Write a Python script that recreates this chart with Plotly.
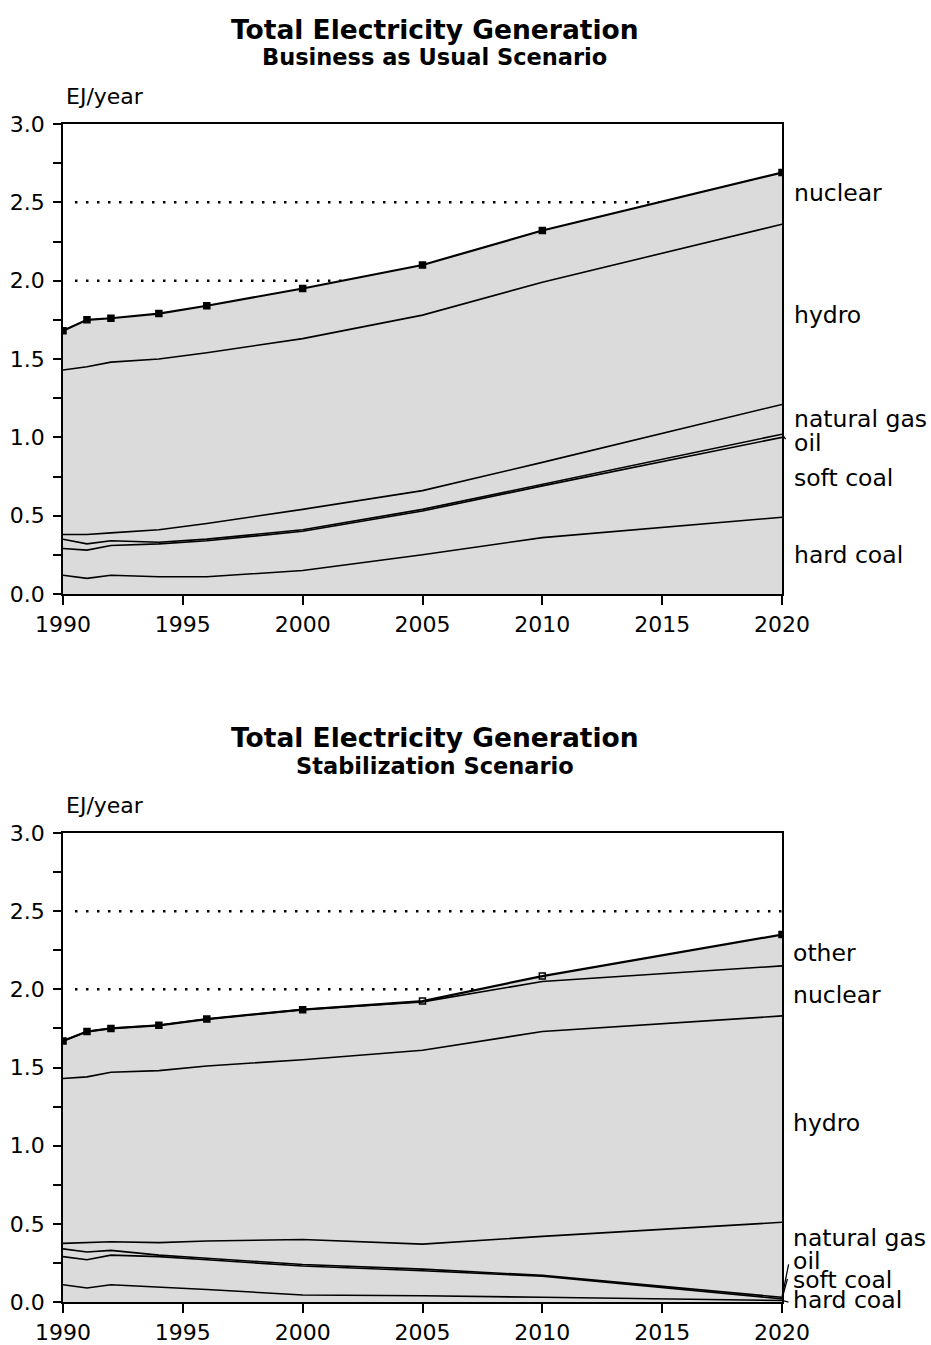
import plotly.graph_objects as go

# ---------------------------------------------------------------------------
# Data: electricity generation by source (EJ/year), stacked bottom to top
# ---------------------------------------------------------------------------
years = [1990, 1991, 1992, 1994, 1996, 2000, 2005, 2010, 2020]
year_ticks = [1990, 1995, 2000, 2005, 2010, 2015, 2020]

# Business as Usual scenario
bau_hard_coal = [0.12, 0.10, 0.12, 0.11, 0.11, 0.15, 0.25, 0.36, 0.49]
bau_soft_coal = [0.17, 0.18, 0.19, 0.21, 0.23, 0.25, 0.28, 0.33, 0.51]
bau_oil = [0.06, 0.04, 0.03, 0.01, 0.01, 0.01, 0.01, 0.01, 0.02]
bau_natural_gas = [0.03, 0.06, 0.05, 0.08, 0.10, 0.13, 0.12, 0.14, 0.19]
bau_hydro = [1.05, 1.07, 1.09, 1.09, 1.09, 1.09, 1.12, 1.15, 1.15]
bau_nuclear = [0.25, 0.30, 0.28, 0.29, 0.30, 0.32, 0.32, 0.33, 0.33]

# Stabilization scenario
stab_hard_coal = [0.11, 0.09, 0.11, 0.095, 0.08, 0.045, 0.04, 0.03, 0.01]
stab_soft_coal = [0.18, 0.18, 0.19, 0.195, 0.19, 0.185, 0.16, 0.135, 0.01]
stab_oil = [0.05, 0.05, 0.03, 0.01, 0.01, 0.01, 0.01, 0.005, 0.01]
stab_natural_gas = [0.035, 0.06, 0.055, 0.08, 0.11, 0.16, 0.16, 0.25, 0.48]
stab_hydro = [1.055, 1.06, 1.085, 1.10, 1.12, 1.15, 1.24, 1.31, 1.32]
stab_nuclear = [0.24, 0.29, 0.28, 0.29, 0.30, 0.32, 0.31, 0.32, 0.32]
stab_other = [0, 0, 0, 0, 0, 0, 0.005, 0.035, 0.20]

bau_series = [
    ("hard coal", bau_hard_coal),
    ("soft coal", bau_soft_coal),
    ("oil", bau_oil),
    ("natural gas", bau_natural_gas),
    ("hydro", bau_hydro),
    ("nuclear", bau_nuclear),
]
stab_series = [
    ("hard coal", stab_hard_coal),
    ("soft coal", stab_soft_coal),
    ("oil", stab_oil),
    ("natural gas", stab_natural_gas),
    ("hydro", stab_hydro),
    ("nuclear", stab_nuclear),
    ("other", stab_other),
]

# ---------------------------------------------------------------------------
# Page geometry (pixels) and styling
# ---------------------------------------------------------------------------
W, H = 931, 1345
FILL = "rgb(219,219,219)"
FONT = "DejaVu Sans"


def py(pix):
    """Vertical pixel position (from top) -> paper fraction."""
    return 1 - pix / H


def px(pix):
    return pix / W


x_dom = [px(63), px(782)]
top_dom = [py(594), py(124)]
bot_dom = [py(1302), py(833)]

fig = go.Figure()


def add_stack(series, group, xa, ya, open_marks=()):
    n = len(series)
    for i, (name, vals) in enumerate(series):
        top = i == n - 1
        symbols = ["square-open" if yr in open_marks else "square" for yr in years]
        fig.add_trace(go.Scatter(
            x=years, y=vals, name=name, stackgroup=group,
            mode="lines+markers" if top else "lines",
            line=dict(color="black", width=2.2 if top else 1.6),
            marker=dict(symbol=symbols, size=6, color="black",
                        line=dict(color="black", width=1.5)),
            fillcolor=FILL, xaxis=xa, yaxis=ya, showlegend=False,
        ))


add_stack(bau_series, "bau", "x", "y")
add_stack(stab_series, "stab", "x2", "y2", open_marks=(2005, 2010))

axis_common = dict(
    automargin=False,
    showline=True, linecolor="black", linewidth=1.6, mirror=True,
    ticks="outside", tickcolor="black", tickwidth=1.6,
    showgrid=False, zeroline=False,
    tickfont=dict(family=FONT, size=22, color="black"),
)
xaxis_cfg = dict(axis_common, range=[1990, 2020], tickvals=year_ticks,
                 ticklen=9, ticklabelstandoff=1, domain=x_dom)
yaxis_cfg = dict(axis_common, range=[0, 3], dtick=0.5, tick0=0,
                 tickformat=".1f", ticklen=8, ticklabelstandoff=4,
                 minor=dict(dtick=0.25, ticks="outside", ticklen=8,
                            tickcolor="black", tickwidth=1.6, showgrid=False))

fig.update_layout(
    width=W, height=H,
    margin=dict(l=0, r=0, t=0, b=0, autoexpand=False),
    paper_bgcolor="white", plot_bgcolor="white",
    xaxis=dict(xaxis_cfg, anchor="y"),
    yaxis=dict(yaxis_cfg, anchor="x", domain=top_dom),
    xaxis2=dict(xaxis_cfg, anchor="y2"),
    yaxis2=dict(yaxis_cfg, anchor="x2", domain=bot_dom),
)

# Dotted reference lines at 2.0 and 2.5 EJ/year, hidden behind the filled areas
for ref in ("", "2"):
    for level in (2.0, 2.5):
        fig.add_shape(type="line", xref="x" + ref, yref="y" + ref,
                      x0=1990.5, x1=2020, y0=level, y1=level, layer="below",
                      line=dict(color="black", width=2.5, dash="2.5px,8.5px"))

annotations = []


def text(x, y, s, size, bold=False, xanchor="left"):
    annotations.append(dict(
        xref="paper", yref="paper", x=px(x), y=py(y), text=s,
        showarrow=False, xanchor=xanchor, yanchor="middle",
        font=dict(family=FONT, size=size, color="black",
                  weight="bold" if bold else "normal"),
    ))


# Titles
for dy, sub in ((0, "Business as Usual Scenario"), (709, "Stabilization Scenario")):
    text(434.5, 29 + dy, "Total Electricity Generation", 26.5, bold=True, xanchor="center")
    text(434.5, 57 + dy, sub, 22.5, bold=True, xanchor="center")
    text(64, 97 + dy, "EJ/year", 22)

# Series labels at the right edge
for lbl, yy in (("nuclear", 193), ("hydro", 315), ("natural gas", 419),
                ("oil", 443), ("soft coal", 478), ("hard coal", 555)):
    text(792, yy, lbl, 23.5)
for lbl, yy in (("other", 953), ("nuclear", 995), ("hydro", 1123),
                ("natural gas", 1238), ("oil", 1261), ("soft coal", 1280),
                ("hard coal", 1300)):
    text(791, yy, lbl, 23.5)


def cum_at_end(series, upto):
    return sum(vals[-1] for _, vals in series[:upto + 1])


def leader(ya, yval, ax, ay):
    annotations.append(dict(
        xref="x" if ya == "y" else "x2", yref=ya, x=2020, y=yval,
        text=" ", font=dict(size=1), showarrow=True, arrowhead=0,
        arrowwidth=1.3, arrowcolor="black", ax=ax, ay=ay, standoff=0,
    ))


# Leader lines from the thin bands to their labels
leader("y", cum_at_end(bau_series, 2), 5, 7)
leader("y2", cum_at_end(stab_series, 2), 7, -35)
leader("y2", cum_at_end(stab_series, 1), 6, -22)
leader("y2", cum_at_end(stab_series, 0), 8, 2)

fig.update_layout(annotations=annotations)

fig.write_html("out.html")
